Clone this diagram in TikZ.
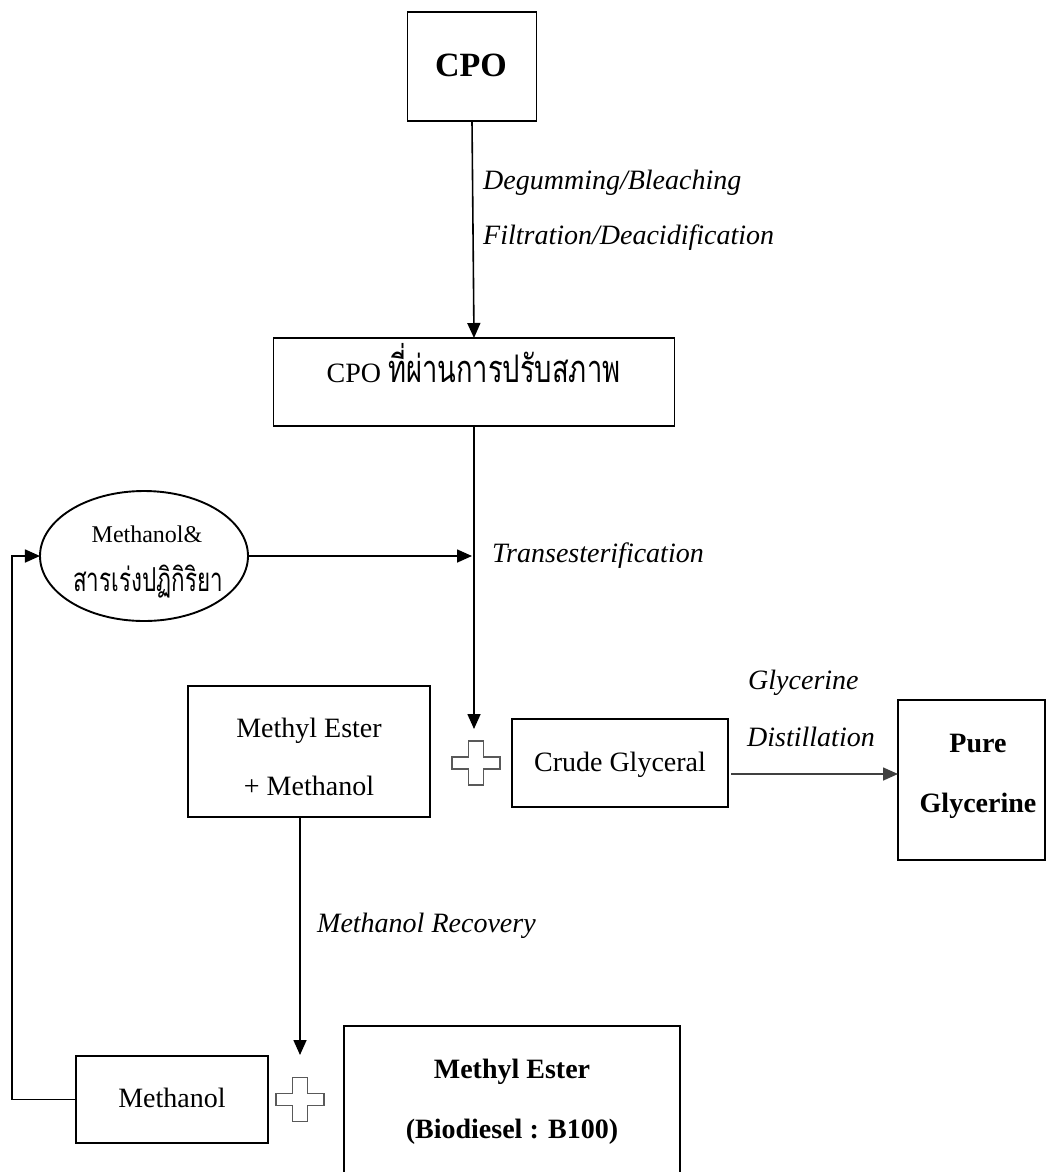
\documentclass[tikz,border=0pt]{standalone}
\usepackage{fontspec}
\setmainfont{Liberation Serif}
\newfontfamily\thaifont[Script=Thai]{Loma}
\usetikzlibrary{shapes.geometric,arrows.meta}
\begin{document}
\begin{tikzpicture}[x=1bp,y=-1bp,
  box/.style={draw=black, line width=1.9bp, inner sep=0pt, outer sep=0pt},
  arr/.style={line width=1.6bp, -{Triangle[length=15bp,width=13bp]}},
  txt/.style={inner sep=0pt, anchor=base, font=\fontsize{28bp}{34bp}\selectfont},
  itxt/.style={inner sep=0pt, anchor=base west, font=\fontsize{28bp}{34bp}\selectfont\itshape},
  btxt/.style={inner sep=0pt, anchor=base, font=\fontsize{28bp}{34bp}\selectfont\bfseries},
  pluspic/.pic={\draw[draw=black!65, line width=1.4bp, fill=white] (-7.5,-22)--(7.5,-22)--(7.5,-6)--(24,-6)--(24,6)--(7.5,6)--(7.5,22)--(-7.5,22)--(-7.5,6)--(-24,6)--(-24,-6)--(-7.5,-6)--cycle;}
]
\useasboundingbox (0,0) rectangle (1047,1172);
\clip (0,0) rectangle (1047,1172);
\fill[white] (0,0) rectangle (1047,1172);

% boxes
\node[box, minimum width=129bp, minimum height=109bp] (cpo) at (472,66.5) {};
\node[btxt, font=\fontsize{34bp}{40bp}\selectfont\bfseries] (cpot) at (471,76) {CPO};

\node[box, minimum width=401bp, minimum height=88bp] (cpo2) at (474,382) {};
\node[txt] (cpo2t) at (473.5,382) {CPO \scalebox{0.72}[1]{\fontsize{38bp}{44bp}\selectfont\thaifont ที่ผ่านการปรับสภาพ}};

\node[box, ellipse, minimum width=208bp, minimum height=130bp] (ell) at (144,556) {};
\node[txt, font=\fontsize{24bp}{30bp}\selectfont] (ellt1) at (147,542) {Methanol\&};
\node[txt] (ellt2) at (148,591) {\scalebox{0.68}[1]{\fontsize{33bp}{40bp}\selectfont\thaifont สารเร่งปฏิกิริยา}};

\node[box, minimum width=242bp, minimum height=131bp] (mem) at (309,751.5) {};
\node[txt] (memt1) at (309,737) {Methyl Ester};
\node[txt] (memt2) at (309,795) {+ Methanol};

\node[box, minimum width=216bp, minimum height=88bp] (crude) at (620,763) {};
\node[txt] (crudet) at (620,771) {Crude Glyceral};

\node[box, minimum width=147bp, minimum height=160bp] (pure) at (971.5,780) {};
\node[btxt] (puret1) at (978,752) {Pure};
\node[btxt] (puret2) at (978,812) {Glycerine};

\node[box, minimum width=192bp, minimum height=87bp] (meth) at (172,1099.5) {};
\node[txt] (metht) at (172,1107) {Methanol};

\node[box, minimum width=336bp, minimum height=174bp] (bio) at (512,1113) {};
\node[btxt] (biot1) at (512,1078) {Methyl Ester};
\node[btxt] (biot2) at (512,1138) {(Biodiesel : B100)};

% process labels
\node[itxt] (l1) at (483,189) {Degumming/Bleaching};
\node[itxt] (l2) at (483,244) {Filtration/Deacidification};
\node[itxt] (l3) at (492,562) {Transesterification};
\node[itxt] (l4) at (748,689) {Glycerine};
\node[itxt] (l5) at (747,746) {Distillation};
\node[itxt] (l6) at (317,932) {Methanol Recovery};

% plus signs
\pic (plusA) at (476,763) {pluspic};
\pic (plusB) at (300,1099.5) {pluspic};

% coordinates
\coordinate (tipA) at (476,729);
\coordinate (tipB) at (300,1055);
\coordinate (tj) at (472,556);
\coordinate (loopc) at (12,556);

% connectors
\draw[arr] (cpo.south) -- (cpo2.north);
\draw[arr] (cpo2.south) -- (cpo2.south |- tipA);
\draw[arr] (ell.east) -- (tj);
\draw[arr] (tipB |- mem.south) -- (tipB);
\draw[arr, draw=black!75, fill=black!75] ([xshift=3bp,yshift=-11bp]crude.east) -- ([yshift=6bp]pure.west);
\draw[arr] (meth.west) -| (loopc) -- (ell.west);
\end{tikzpicture}
\end{document}
